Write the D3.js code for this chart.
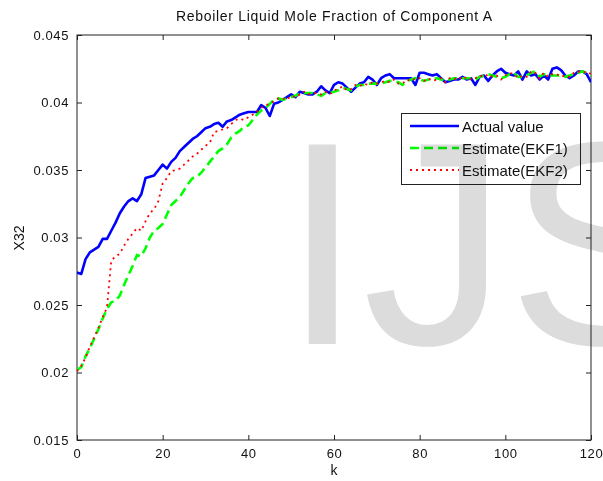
<!DOCTYPE html>
<html><head><meta charset="utf-8">
<script src="https://cdn.jsdelivr.net/npm/d3@7"></script>
<style>
body{margin:0;background:#fff;}
svg{display:block;}
text{font-family:Arial,"Liberation Sans",Helvetica,sans-serif;}
</style></head>
<body>
<script>
const title = "Reboiler Liquid Mole Fraction of Component A";
const xLabel = "k";
const yLabel = "X32";
const xTicks = [0,20,40,60,80,100,120];
const yTicks = [0.015,0.02,0.025,0.03,0.035,0.04,0.045];
const yTickLabels = ["0.015","0.02","0.025","0.03","0.035","0.04","0.045"];
const seriesNames = ["Actual value","Estimate(EKF1)","Estimate(EKF2)"];
const watermark = "IJS";

const actual = [0.0274,0.0273,0.0284,0.0289,0.0291,0.0293,0.0299,0.0299,0.0305,0.0311,
0.0318,0.0323,0.0327,0.0329,0.0327,0.0332,0.0344,0.0345,0.0346,0.0350,
0.0354,0.0351,0.0356,0.0359,0.0364,0.0367,0.0370,0.0373,0.0375,0.0378,
0.0381,0.0382,0.0384,0.0385,0.0382,0.0386,0.0387,0.0389,0.0391,0.0392,
0.0393,0.0393,0.0393,0.0398,0.0396,0.0390,0.0399,0.0400,0.0402,0.0404,
0.0406,0.0404,0.0408,0.0407,0.0406,0.0406,0.0408,0.0412,0.0409,0.0407,
0.0413,0.0415,0.0414,0.0411,0.0408,0.0411,0.0414,0.0415,0.0419,0.0417,
0.0413,0.0418,0.0420,0.0421,0.0418,0.0418,0.0418,0.0418,0.0418,0.0413,
0.0422,0.0422,0.0421,0.0420,0.0421,0.0418,0.0415,0.0416,0.0417,0.0417,
0.0419,0.0417,0.0418,0.0413,0.0419,0.0420,0.0416,0.0420,0.0423,0.0425,
0.0422,0.0421,0.0420,0.0423,0.0417,0.0423,0.0420,0.0421,0.0417,0.0420,
0.0417,0.0425,0.0426,0.0424,0.0420,0.0418,0.0420,0.0423,0.0423,0.0421,0.0415];

const ekf1 = [0.0202,0.0204,0.0212,0.0218,0.0225,0.0232,0.0240,0.0247,0.0252,0.0253,
0.0257,0.0265,0.0272,0.0279,0.0287,0.0286,0.0292,0.0300,0.0305,0.0307,
0.0310,0.0317,0.0324,0.0327,0.0330,0.0335,0.0340,0.0344,0.0345,0.0348,
0.0352,0.0356,0.0360,0.0364,0.0366,0.0369,0.0374,0.0377,0.0379,0.0382,
0.0383,0.0387,0.0391,0.0394,0.0396,0.0399,0.0402,0.0403,0.0402,0.0403,
0.0404,0.0405,0.0407,0.0407,0.0407,0.0407,0.0406,0.0405,0.0407,0.0407,
0.0408,0.0409,0.0411,0.0410,0.0409,0.0412,0.0413,0.0413,0.0414,0.0414,
0.0414,0.0414,0.0415,0.0416,0.0416,0.0415,0.0413,0.0416,0.0417,0.0418,
0.0417,0.0416,0.0417,0.0417,0.0418,0.0417,0.0416,0.0417,0.0418,0.0418,
0.0418,0.0418,0.0418,0.0417,0.0419,0.0420,0.0421,0.0420,0.0419,0.0418,
0.0419,0.0421,0.0422,0.0419,0.0419,0.0420,0.0422,0.0423,0.0419,0.0421,
0.0420,0.0420,0.0420,0.0420,0.0419,0.0420,0.0421,0.0422,0.0423,0.0422,0.0420];

const ekf2 = [0.0201,0.0205,0.0211,0.0219,0.0226,0.0233,0.0241,0.0248,0.0283,0.0286,
0.0288,0.0294,0.0299,0.0303,0.0307,0.0305,0.0312,0.0318,0.0321,0.0327,
0.0340,0.0344,0.0349,0.0350,0.0351,0.0354,0.0357,0.0360,0.0362,0.0365,
0.0368,0.0370,0.0378,0.0379,0.0380,0.0381,0.0384,0.0387,0.0388,0.0387,
0.0389,0.0391,0.0393,0.0396,0.0398,0.0399,0.0401,0.0403,0.0403,0.0402,
0.0405,0.0404,0.0406,0.0408,0.0406,0.0407,0.0407,0.0406,0.0408,0.0406,
0.0409,0.0410,0.0412,0.0409,0.0410,0.0413,0.0412,0.0414,0.0413,0.0415,
0.0414,0.0415,0.0416,0.0415,0.0417,0.0414,0.0414,0.0417,0.0416,0.0418,
0.0418,0.0416,0.0418,0.0416,0.0417,0.0418,0.0415,0.0418,0.0417,0.0419,
0.0417,0.0419,0.0417,0.0418,0.0420,0.0419,0.0421,0.0419,0.0420,0.0417,
0.0420,0.0422,0.0421,0.0418,0.0420,0.0419,0.0423,0.0422,0.0418,0.0422,
0.0419,0.0421,0.0421,0.0419,0.0420,0.0419,0.0422,0.0423,0.0422,0.0423,0.0421];

const W = 603, H = 481;
const m = {left:77, top:35, right:591, bottom:440};

const svg = d3.select("body").append("svg").attr("width",W).attr("height",H);
svg.append("rect").attr("width",W).attr("height",H).attr("fill","#fff");

const x = d3.scaleLinear().domain([0,120]).range([m.left,m.right]);
const y = d3.scaleLinear().domain([0.015,0.045]).range([m.bottom,m.top]);

const axisColor = "#222";
svg.append("rect").attr("x",m.left).attr("y",m.top)
  .attr("width",m.right-m.left).attr("height",m.bottom-m.top)
  .attr("fill","none").attr("stroke",axisColor).attr("stroke-width",1);

const tl = 5;
const gx = svg.append("g").attr("transform",`translate(0,${m.bottom})`)
  .call(d3.axisBottom(x).tickValues(xTicks).tickSizeInner(-tl).tickSizeOuter(0).tickPadding(9));
const gxTop = svg.append("g").attr("transform",`translate(0,${m.top})`)
  .call(d3.axisTop(x).tickValues(xTicks).tickSizeInner(-tl).tickSizeOuter(0).tickFormat(""));
const gy = svg.append("g").attr("transform",`translate(${m.left},0)`)
  .call(d3.axisLeft(y).tickValues(yTicks).tickSizeInner(-tl).tickSizeOuter(0).tickPadding(8)
    .tickFormat((d,i)=>yTickLabels[i]));
const gyR = svg.append("g").attr("transform",`translate(${m.right},0)`)
  .call(d3.axisRight(y).tickValues(yTicks).tickSizeInner(-tl).tickSizeOuter(0).tickFormat(""));
[gx,gxTop,gy,gyR].forEach(g=>{
  g.select(".domain").remove();
  g.selectAll("line").attr("stroke",axisColor);
  g.selectAll("text").attr("fill","#111").style("font-size","13px").style("letter-spacing","0.6px")
   .style("font-family","Arial, 'Liberation Sans', sans-serif");
});

const clipId = "plotclip";
svg.append("clipPath").attr("id",clipId).append("rect")
  .attr("x",m.left).attr("y",m.top).attr("width",m.right-m.left).attr("height",m.bottom-m.top);
const line = d3.line().x((d,i)=>x(i)).y(d=>y(d));
const plotG = svg.append("g").attr("clip-path",`url(#${clipId})`);
plotG.append("path").datum(actual).attr("d",line).attr("fill","none")
  .attr("stroke","#0000ff").attr("stroke-width",2.6).attr("stroke-linejoin","round");
plotG.append("path").datum(ekf1).attr("d",line).attr("fill","none")
  .attr("stroke","#00ff00").attr("stroke-width",2.6).attr("stroke-dasharray","9,5");
plotG.append("path").datum(ekf2).attr("d",line).attr("fill","none")
  .attr("stroke","#ff0000").attr("stroke-width",1.8).attr("stroke-dasharray","2,4");

const lg = svg.append("g");
lg.append("rect").attr("x",401.5).attr("y",113.5).attr("width",179).attr("height",71)
  .attr("fill","#fff").attr("stroke",axisColor).attr("stroke-width",1);
const rows = [
  {name:seriesNames[0], color:"#0000ff", dash:null, w:2.6},
  {name:seriesNames[1], color:"#00ff00", dash:"9,5", w:2.6},
  {name:seriesNames[2], color:"#ff0000", dash:"2,4", w:1.8}
];
const rowY = [126, 148, 170];
rows.forEach((r,i)=>{
  const ln = lg.append("line").attr("x1",410).attr("x2",459).attr("y1",rowY[i]).attr("y2",rowY[i])
    .attr("stroke",r.color).attr("stroke-width",r.w);
  if(r.dash) ln.attr("stroke-dasharray",r.dash);
  lg.append("text").attr("x",462).attr("y",rowY[i]+6).text(r.name)
    .style("font-size","15px").attr("fill","#111");
});

svg.append("text").attr("x",334).attr("y",21).attr("text-anchor","middle")
  .style("font-size","14px").attr("textLength",316).attr("lengthAdjust","spacing")
  .attr("fill","#111").text(title);
svg.append("text").attr("x",334).attr("y",475).attr("text-anchor","middle")
  .style("font-size","14px").attr("fill","#111").text(xLabel);
svg.append("text").attr("transform","translate(24,238) rotate(-90)").attr("text-anchor","middle")
  .style("font-size","14px").attr("fill","#111").text(yLabel);

svg.append("text").attr("x",282).attr("y",344).text(watermark)
  .style("font-size","290px").style("font-family","Arial, 'Liberation Sans', sans-serif")
  .attr("fill","#dcdcdc").style("mix-blend-mode","multiply");
</script>
</body></html>
